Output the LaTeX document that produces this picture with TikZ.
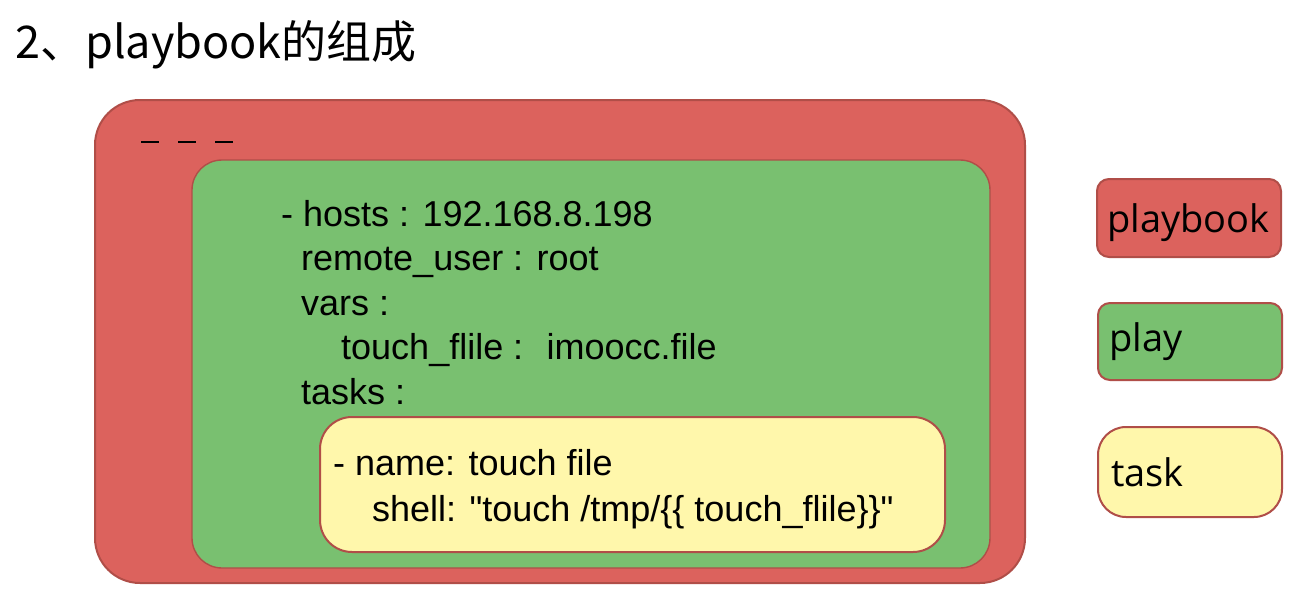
\documentclass[tikz,border=0pt]{standalone}
\usepackage{fontspec}
\setmainfont{Liberation Sans}
\newfontfamily\codefont{Liberation Sans}
\newfontfamily\cjkfont{Noto Sans CJK SC}
\newfontfamily\legfont{Open Sans}
\definecolor{pbred}{HTML}{DC625D}
\definecolor{pbredline}{HTML}{B04E48}
\definecolor{plgreen}{HTML}{79C070}
\definecolor{tkyellow}{HTML}{FFF7AB}
\tikzset{
  box/.style={draw=pbredline, line width=2pt},
  code/.style={anchor=base west, inner sep=0pt, font=\codefont\fontsize{36}{40}\selectfont, text=black},
  legtext/.style={anchor=base west, inner sep=0pt, font=\legfont\fontsize{38}{42}\selectfont, text=black},
}
\begin{document}
\begin{tikzpicture}[x=1pt,y=-1pt]
\useasboundingbox (0,0) rectangle (1307,589);
\fill[white] (0,0) rectangle (1307,589);
% title
\node[anchor=base west, inner sep=0pt, font=\cjkfont\fontsize{45}{50}\selectfont] (title) at (15,58) {2、playbook的组成};
% playbook box
\draw[box, fill=pbred, rounded corners=45pt] (95,100) rectangle (1025,583);
\node[anchor=west, inner sep=0pt] (sep) at (141,142) {\rule{18pt}{2.6pt}\hspace{19pt}\rule{18pt}{2.6pt}\hspace{19pt}\rule{18pt}{2.6pt}};
% play box
\draw[draw=pbredline, line width=1.4pt, fill=plgreen, rounded corners=30pt] (192,160) rectangle (990,568);
\node[code] (l1) at (281,226) {- hosts : 192.168.8.198};
\node[code] (l2) at (301,270.5) {remote\_user : root};
\node[code] (l3) at (301,315) {vars :};
\node[code] (l4) at (341,359.5) {touch\_flile : \ imoocc.file};
\node[code] (l5) at (301,404) {tasks :};
% task box
\draw[box, fill=tkyellow, rounded corners=32pt] (320,417) rectangle (945,552);
\node[code] (t1) at (333,475) {- name: touch file};
\node[code] (t2) at (372,521) {shell: "touch /tmp/\{\{ touch\_flile\}\}"};
% legend
\draw[box, fill=pbred, rounded corners=12pt] (1097,179) rectangle (1281,257);
\node[legtext] (lg1) at (1107,232) {playbook};
\draw[box, fill=plgreen, rounded corners=12pt] (1098,303) rectangle (1282,380);
\node[legtext] (lg2) at (1109,351) {play};
\draw[box, fill=tkyellow, rounded corners=28pt] (1098,427) rectangle (1282,517);
\node[legtext] (lg3) at (1111,486) {task};
\end{tikzpicture}
\end{document}
